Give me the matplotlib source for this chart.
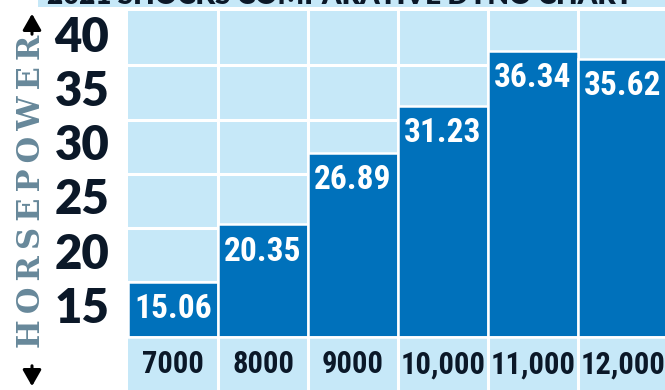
import matplotlib
matplotlib.use("Agg")
import matplotlib.pyplot as plt
import matplotlib.transforms as mtransforms
from matplotlib import font_manager
from matplotlib.patches import Rectangle

# ---- data ----
rpm_labels = ["7000", "8000", "9000", "10,000", "11,000", "12,000"]
horsepower = [15.06, 20.35, 26.89, 31.23, 36.34, 35.62]
y_ticks = [15, 20, 25, 30, 35, 40]
title_text = "2021 SHOCKS COMPARATIVE DYNO CHART"
axis_title = "HORSEPOWER"

# ---- fonts ----
available = {f.name for f in font_manager.fontManager.ttflist}
def pick(*names):
    for n in names:
        if n in available:
            return n
    return "DejaVu Sans"

narrow = pick("Liberation Sans Narrow", "Roboto Condensed", "DejaVu Sans")
narrow_stretch = "condensed" if narrow == "DejaVu Sans" else "normal"
heavy = pick("Lato", "DejaVu Sans")
slab = pick("DejaVu Serif")

LIGHT = "#C6E8F8"
BAR = "#0071BB"
NAVY = "#0B1828"
GREY = "#67889A"

W, H = 665, 390
fig = plt.figure(figsize=(W / 100, H / 100), dpi=100)
fig.patch.set_facecolor("white")

# title band (cut off at the top)
fig.patches.append(Rectangle((38 / W, 1 - 7 / H), 1 - 38 / W, 7 / H,
                             transform=fig.transFigure, facecolor=LIGHT,
                             edgecolor="none", zorder=0))
fig.text(340 / W, 1 - 4.5 / H, title_text, ha="center", va="baseline",
         fontsize=20, fontweight="heavy", family=heavy, color=NAVY)

ax = fig.add_axes([128 / W, 0, 537 / W, 379 / H])
ax.set_facecolor(LIGHT)
ax.set_xlim(-0.5, -0.5 + 537 / 90)
ax.set_ylim(5.1, 40)
for s in ax.spines.values():
    s.set_visible(False)
ax.set_xticks([])
ax.set_yticks([])

x = list(range(len(rpm_labels)))

# white grid of the background cells
for v in y_ticks[:-1]:
    ax.axhline(v, color="white", lw=2.2, zorder=1)
ax.axhline(10, color="white", lw=1.2, zorder=3)
for k in range(len(rpm_labels)):
    ax.axvline(k + 0.5, color="white", lw=2.2, zorder=1)

ax.bar(x, [h - 10 for h in horsepower], bottom=10, width=1.0,
       color=BAR, edgecolor="white", linewidth=1.8, zorder=2)

for xi, h in zip(x, horsepower):
    ax.annotate(f"{h:.2f}", (xi, h), xytext=(0, -8), textcoords="offset points",
                ha="center", va="top", color="white", fontsize=24,
                fontweight="bold", family=narrow, fontstretch=narrow_stretch,
                zorder=4)

for xi, lab in zip(x, rpm_labels):
    ax.text(xi, 7.45, lab, ha="center", va="center", color=NAVY, fontsize=22,
            fontweight="bold", family=narrow, fontstretch=narrow_stretch,
            zorder=4)

# y tick labels, centred in the row under each grid line
trans = mtransforms.blended_transform_factory(fig.transFigure, ax.transData)
for v in y_ticks:
    fig.text(82 / W, v - 2.45, str(v), transform=trans, ha="center",
             va="center", fontsize=34, fontweight="heavy", family=heavy,
             color=NAVY)

# vertical axis title with arrows
fig.text(32 / W, 199 / H, "\u2009".join(axis_title),
         rotation=90, ha="center", va="center", fontsize=22,
         fontweight="bold", family=slab, color=GREY)
arrow = dict(arrowstyle="-|>,head_length=0.7,head_width=0.4",
             color="black", lw=2.2, mutation_scale=14)
ax.annotate("", xy=(32 / W, 1 - 11 / H), xytext=(32 / W, 1 - 37 / H),
            xycoords="figure fraction", textcoords="figure fraction",
            arrowprops=arrow, annotation_clip=False)
ax.annotate("", xy=(32 / W, 1 / H), xytext=(32 / W, 27 / H),
            xycoords="figure fraction", textcoords="figure fraction",
            arrowprops=arrow, annotation_clip=False)

fig.savefig("out.png", dpi=100)
